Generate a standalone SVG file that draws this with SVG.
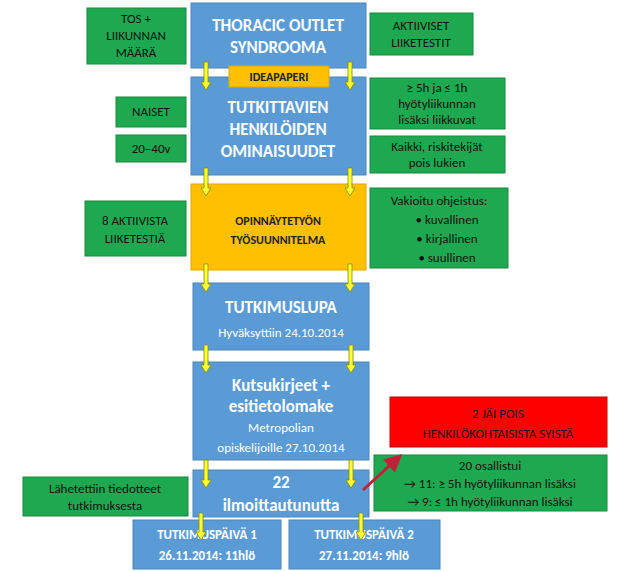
<svg xmlns="http://www.w3.org/2000/svg" width="621" height="571" viewBox="0 0 621 571">
<defs>
<style>
.b{fill:#5b9bd5;stroke:#4a86bd;stroke-width:1}
.g{fill:#1ea84f;stroke:#178a40;stroke-width:1}
.o{fill:#ffc000;stroke:#e0a800;stroke-width:1}
.r{fill:#ff0000;stroke:#c00000;stroke-width:1}
text{font-family:Calibri,"Liberation Sans",Arial,sans-serif;text-anchor:middle}
.wt{fill:#fff;font-weight:bold;font-size:17px}
.ws{fill:#fff;font-size:13px}
.gt{fill:#111;font-size:13px}
.dt{fill:#222;font-weight:bold;font-size:12px}
.ya{stroke:#8a8a00;stroke-width:0.8;fill:#ffff33}
</style>
<marker id="ra" markerWidth="6" markerHeight="6" refX="5" refY="3" orient="auto"><path d="M0,0L6,3L0,6z" fill="#c0203a"/></marker>
</defs>
<rect width="621" height="571" fill="#fff"/>
<g id="n-thoracic"><rect class="b" x="191" y="3" width="175" height="65"/><text class="wt" x="278" y="31">THORACIC OUTLET</text><text class="wt" x="278" y="53">SYNDROOMA</text></g>
<g id="n-tos"><rect class="g" x="87" y="8" width="99" height="56"/><text class="gt" x="136" y="23">TOS +</text><text class="gt" x="136" y="40">LIIKUNNAN</text><text class="gt" x="136" y="57">MÄÄRÄ</text></g>
<g id="n-akt"><rect class="g" x="370" y="13" width="103" height="42"/><text class="gt" x="421" y="30">AKTIIVISET</text><text class="gt" x="421" y="47">LIIKETESTIT</text></g>
<g id="n-tutk"><rect class="b" x="191" y="77" width="175" height="98"/><text class="wt" x="278" y="113">TUTKITTAVIEN</text><text class="wt" x="278" y="135">HENKILÖIDEN</text><text class="wt" x="278" y="157">OMINAISUUDET</text></g>
<g id="n-idea"><rect class="o" x="229" y="66" width="100" height="21"/><text class="dt" x="279" y="81">IDEAPAPERI</text></g>
<g id="n-naiset"><rect class="g" x="116" y="97" width="70" height="30"/><text class="gt" x="151" y="116">NAISET</text></g>
<g id="n-age"><rect class="g" x="116" y="135" width="70" height="27"/><text class="gt" x="151" y="153">20–40v</text></g>
<g id="n-5h"><rect class="g" x="370" y="78" width="135" height="51"/><text class="gt" x="437" y="92">≥ 5h ja ≤ 1h</text><text class="gt" x="437" y="108">hyötyliikunnan</text><text class="gt" x="437" y="124">lisäksi liikkuvat</text></g>
<g id="n-kaikki"><rect class="g" x="370" y="136" width="135" height="37"/><text class="gt" x="437" y="151">Kaikki, riskitekijät</text><text class="gt" x="437" y="167">pois lukien</text></g>
<g id="n-opin"><rect class="o" x="191" y="184" width="175" height="86"/><text class="dt" x="278" y="225">OPINNÄYTETYÖN</text><text class="dt" x="278" y="244">TYÖSUUNNITELMA</text></g>
<g id="n-8akt"><rect class="g" x="85" y="201" width="101" height="55"/><text class="gt" x="135" y="225">8 AKTIIVISTA</text><text class="gt" x="135" y="243">LIIKETESTIÄ</text></g>
<g id="n-vak"><rect class="g" x="370" y="188" width="138" height="80"/><text class="gt" x="439" y="205">Vakioitu ohjeistus:</text><text class="gt" x="447" y="224">•   kuvallinen</text><text class="gt" x="447" y="243">•   kirjallinen</text><text class="gt" x="447" y="262">•   suullinen</text></g>
<g id="n-lupa"><rect class="b" x="193" y="283" width="176" height="67"/><text class="wt" x="281" y="313">TUTKIMUSLUPA</text><text class="ws" x="281" y="337">Hyväksyttiin 24.10.2014</text></g>
<g id="n-kutsu"><rect class="b" x="193" y="362" width="176" height="98"/><text class="wt" x="281" y="391">Kutsukirjeet +</text><text class="wt" x="281" y="412">esitietolomake</text><text class="ws" x="281" y="432">Metropolian</text><text class="ws" x="281" y="452">opiskelijoille 27.10.2014</text></g>
<g id="n-red"><rect class="r" x="390" y="397" width="217" height="50"/><text class="gt" x="498" y="418">2 JÄI POIS</text><text class="gt" x="498" y="438">HENKILÖKOHTAISISTA SYISTÄ</text></g>
<g id="n-20"><rect class="g" x="374" y="455" width="233" height="56"/><text class="gt" x="490" y="470">20 osallistui</text><text class="gt" x="490" y="488">→ 11: ≥ 5h hyötyliikunnan lisäksi</text><text class="gt" x="490" y="506">→ 9: ≤ 1h hyötyliikunnan lisäksi</text></g>
<g id="n-22"><rect class="b" x="193" y="470" width="176" height="47"/><text class="wt" x="281" y="488">22</text><text class="wt" x="281" y="511">ilmoittautunutta</text></g>
<g id="n-lah"><rect class="g" x="23" y="477" width="165" height="39"/><text class="gt" x="105" y="493">Lähetettiin tiedotteet</text><text class="gt" x="105" y="510">tutkimuksesta</text></g>
<g id="n-p1"><rect class="b" x="133" y="520" width="148" height="49"/><text class="dt" style="fill:#fff;font-size:13px" x="207" y="539">TUTKIMUSPÄIVÄ 1</text><text class="dt" style="fill:#fff;font-size:13px" x="207" y="560">26.11.2014: 11hlö</text></g>
<g id="n-p2"><rect class="b" x="289" y="520" width="151" height="49"/><text class="dt" style="fill:#fff;font-size:13px" x="364" y="539">TUTKIMUSPÄIVÄ 2</text><text class="dt" style="fill:#fff;font-size:13px" x="364" y="560">27.11.2014: 9hlö</text></g>
<g id="connectors">
<path class="ya" d="M204,62h4v20h3l-5,8l-5,-8h3z"/>
<path class="ya" d="M348,62h4v20h3l-5,8l-5,-8h3z"/>
<path class="ya" d="M204,168h4v20h3l-5,8l-5,-8h3z"/>
<path class="ya" d="M348,168h4v20h3l-5,8l-5,-8h3z"/>
<path class="ya" d="M204,264h4v20h3l-5,8l-5,-8h3z"/>
<path class="ya" d="M348,264h4v20h3l-5,8l-5,-8h3z"/>
<path class="ya" d="M204,345h4v20h3l-5,8l-5,-8h3z"/>
<path class="ya" d="M349,345h4v20h3l-5,8l-5,-8h3z"/>
<path class="ya" d="M204,460h4v20h3l-5,8l-5,-8h3z"/>
<path class="ya" d="M349,460h4v20h3l-5,8l-5,-8h3z"/>
<path class="ya" d="M199,513h4v19h3l-5,8l-5,-8h3z"/>
<path class="ya" d="M359,513h4v19h3l-5,8l-5,-8h3z"/>
<line x1="363" y1="490" x2="400" y2="456" stroke="#c0203a" stroke-width="3" marker-end="url(#ra)"/>
</g>
</svg>
